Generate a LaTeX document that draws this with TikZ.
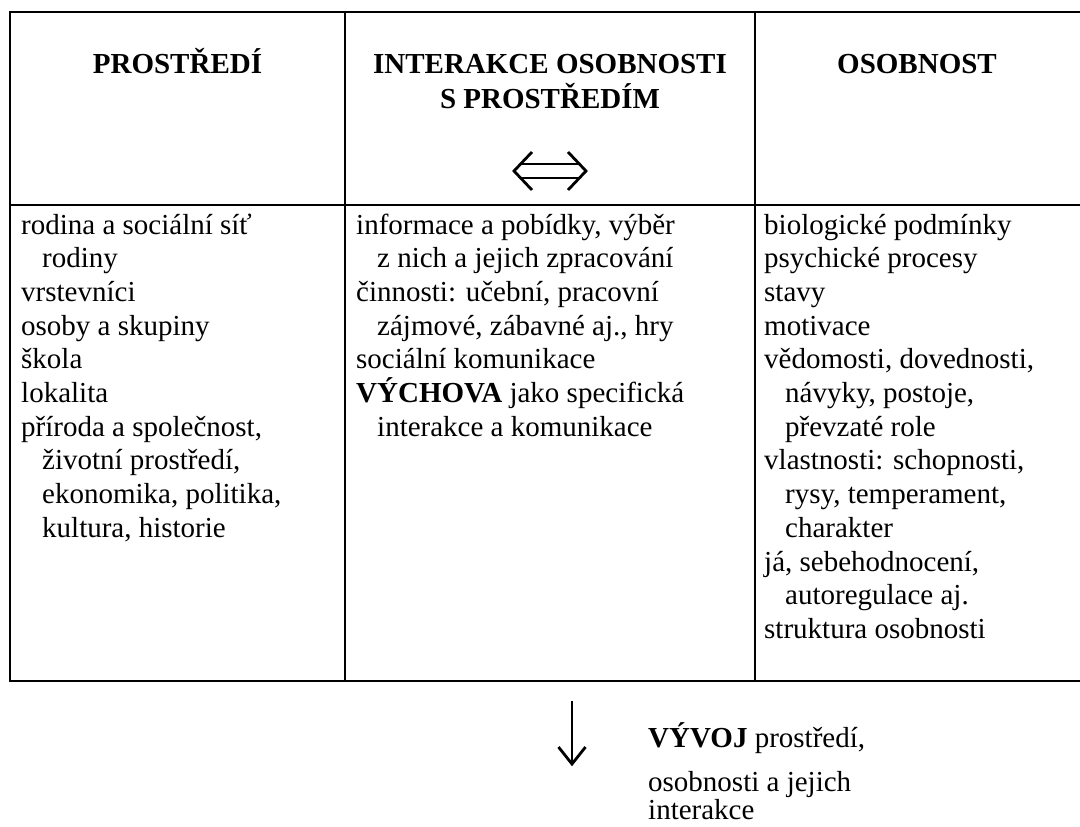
\documentclass[tikz,border=0pt]{standalone}
\usepackage{fontspec}
\setmainfont{Liberation Serif}
\newcommand\ind{\hspace*{21pt}}
\begin{document}
\begin{tikzpicture}[x=1pt,y=-1pt,
  grid/.style={line width=1.9pt, line cap=rect},
  sym/.style={line width=2.8pt, line join=miter},
  body/.style={anchor=base west, inner sep=0pt, font=\fontsize{29}{33}\selectfont},
  head/.style={anchor=base, inner sep=0pt, font=\fontsize{29}{33}\selectfont\bfseries}]
\useasboundingbox (0,0) rectangle (1080,827);
% table rules
\draw[grid] (1080,12) -- (10,12) -- (10,681) -- (1080,681);
\draw[grid] (10,205) -- (1080,205);
\draw[grid] (345,12) -- (345,681);
\draw[grid] (755,12) -- (755,681);
% headers
\node[head] (h1) at (177.5,73) {PROSTŘEDÍ};
\node[head] (h2a) at (550,73) {INTERAKCE OSOBNOSTI};
\node[head] (h2b) at (550,108) {S PROSTŘEDÍM};
\node[head] (h3) at (917,73) {OSOBNOST};
% double arrow symbol
\draw[sym] (532,152) -- (514,171) -- (532,190);
\draw[sym] (568,152) -- (586,171) -- (568,190);
\draw[sym] (520.5,164) -- (579.5,164);
\draw[sym] (520.5,178) -- (579.5,178);
% column 1
\foreach \t [count=\i] in {{rodina a sociální síť},{\ind rodiny},{vrstevníci},{osoby a skupiny},{škola},{lokalita},{příroda a společnost,},{\ind životní prostředí,},{\ind ekonomika, politika,},{\ind kultura, historie}}
  \node[body] (ca\i) at (21,{234+(\i-1)*33.7}) {\t};
% column 2
\foreach \t [count=\i] in {{informace a pobídky, výběr},{\ind z nich a jejich zpracování},{činnosti: učební, pracovní},{\ind zájmové, zábavné aj., hry},{sociální komunikace},{\textbf{VÝCHOVA} jako specifická},{\ind interakce a komunikace}}
  \node[body] (cb\i) at (356,{234+(\i-1)*33.7}) {\t};
% column 3
\foreach \t [count=\i] in {{biologické podmínky},{psychické procesy},{stavy},{motivace},{vědomosti, dovednosti,},{\ind návyky, postoje,},{\ind převzaté role},{vlastnosti: schopnosti,},{\ind rysy, temperament,},{\ind charakter},{já, sebehodnocení,},{\ind autoregulace aj.},{struktura osobnosti}}
  \node[body] (cc\i) at (764,{234+(\i-1)*33.7}) {\t};
% development arrow
\draw[line width=2.2pt] (572,701) -- (572,762);
\draw[sym] (558.5,747) -- (572,764) -- (585.5,747);
\node[body] (v1) at (648,747) {\textbf{VÝVOJ} prostředí,};
\node[body] (v2) at (648,791) {osobnosti a jejich};
\node[body] (v3) at (648,819) {interakce};
\end{tikzpicture}
\end{document}
